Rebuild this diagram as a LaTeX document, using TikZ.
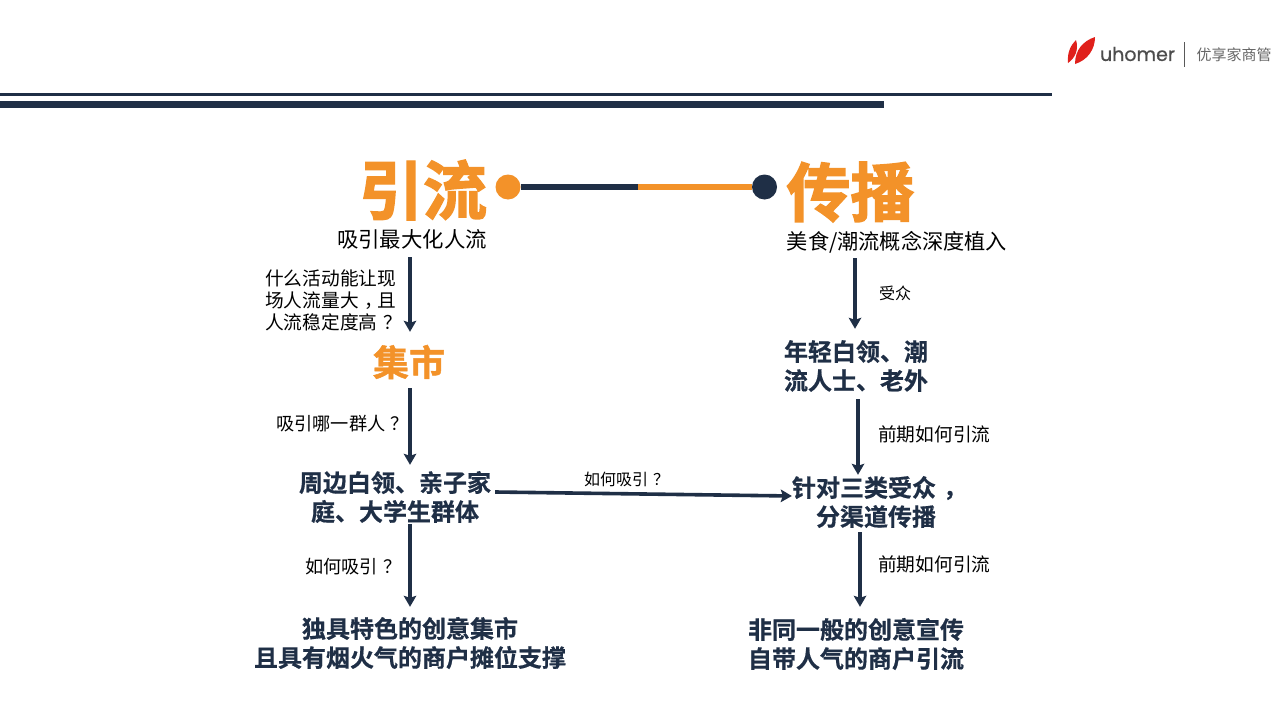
\documentclass[tikz,border=0pt]{standalone}
\usepackage{fontspec}
\newfontfamily\cjk{Noto Sans CJK SC}
\newfontfamily\cjkb[FakeBold=0.6]{Noto Sans CJK SC Bold}
\newfontfamily\cjkm[FakeBold=1.2]{Noto Sans CJK SC Bold}
\newfontfamily\cjkt[FakeBold=2.2]{Noto Sans CJK SC Bold}
\newfontfamily\logof[FakeBold=0.6]{Poppins}
\usetikzlibrary{arrows.meta}
\definecolor{navy}{HTML}{1F2F46}
\definecolor{orng}{HTML}{F39229}
\definecolor{leaf}{HTML}{E0201B}
\newcommand{\qm}{\kern.3em？\kern-.3em\relax}
\newcommand{\cm}{\kern.3em，\kern-.3em\relax}
\tikzset{
  x=1pt,y=-1pt,
  fs/.style={font=\fontsize{#1}{#1}\selectfont\cjk,text=black,inner sep=0pt,align=left},
  hd/.style={font=\fontsize{24}{29}\selectfont\cjkb,text=navy,inner sep=0pt,align=center,minimum height=54pt},
  ttl/.style={font=\fontsize{64}{64}\selectfont\cjkt,text=orng,inner sep=0pt},
  flow/.style={draw=navy,line width=3.6pt,-{Stealth[length=11pt,width=12.5pt,inset=2pt]}},
  dot/.style={circle,inner sep=0pt,minimum size=25pt}
}
\begin{document}
\begin{tikzpicture}
\useasboundingbox (0,0) rectangle (1280,720);
\fill[white] (0,0) rectangle (1280,720);
% header rules
\fill[navy] (0,92.5) rectangle (1052,95.5);
\fill[navy] (0,101) rectangle (884,107.5);
% logo
\fill[leaf] (1068,63) .. controls (1067,52) and (1071,45) .. (1076,40) .. controls (1079,50) and (1075,58) .. (1068,63);
\fill[leaf] (1075,64) .. controls (1075,50) and (1083,41) .. (1095,37) .. controls (1095,49) and (1088,60) .. (1075,64);
\node[font=\fontsize{19}{19}\selectfont\logof,text=black!70,inner sep=0pt] (brand) at (1137.5,54) {uhomer};
\draw[black!65,line width=.8pt] (1184,42) -- (1184,67);
\node[font=\fontsize{15}{15}\selectfont\cjk,text=black!60,inner sep=0pt] (brandcn) at (1234,55) {优享家商管};
% top row
\node[ttl] (yl) at (423,190) {引流};
\node[ttl] (cb) at (850.5,192) {传播};
\node[dot,fill=orng] (d1) at (508,187) {};
\node[dot,fill=navy] (d2) at (764.5,187) {};
\coordinate (mid) at (638,187);
\draw[navy,line width=6pt] (d1.east) -- (mid);
\draw[orng,line width=6pt] (mid) -- (d2.west);
\node[fs=21.4,minimum height=36pt] (a0) at (412,239) {吸引最大化人流};
\node[fs=21.2,minimum height=32pt] (b0) at (897,242) {美食/潮流概念深度植入};
% left column
\node[font=\fontsize{36}{36}\selectfont\cjkm,text=orng,inner sep=0pt,minimum height=64pt] (a1) at (409,362) {集市};
\node[hd] (a2) at (395,497) {周边白领、亲子家\\庭、大学生群体};
\node[hd,minimum height=64pt] (a3) at (410,643) {独具特色的创意集市\\且具有烟火气的商户摊位支撑};
% right column
\node[hd,align=left,minimum height=66pt] (b1) at (856,366) {年轻白领、潮\\流人士、老外};
\node[hd,minimum height=60pt] (b2) at (876,502) {针对三类受众\cm\\分渠道传播};
\node[hd,minimum height=64pt] (b3) at (856,644) {非同一般的创意宣传\\自带人气的商户引流};
% connectors
\draw[flow] ([xshift=-2pt]a0.south) -- ([xshift=1pt,yshift=-2pt]a1.north);
\draw[flow] ([xshift=1pt,yshift=6pt]a1.south) -- ([xshift=15pt,yshift=5pt]a2.north);
\draw[flow] ([xshift=15pt]a2.south) -- ([yshift=4pt]a3.north);
\draw[flow] ([xshift=-42pt]b0.south) -- ([xshift=-1pt,yshift=4pt]b1.north);
\draw[flow] ([xshift=2pt]b1.south) -- ([xshift=-18pt,yshift=-3pt]b2.north);
\draw[flow] ([xshift=-16pt]b2.south) -- ([xshift=4pt,yshift=5pt]b3.north);
\draw[flow] ([xshift=4pt,yshift=5pt]a2.east) -- ([yshift=6pt]b2.west);
% labels
\node[fs=18,font=\fontsize{18.7}{22}\selectfont\cjk,anchor=west] (q1) at (265,300) {什么活动能让现\\场人流量大\cm 且\\人流稳定度高\qm};
\node[fs=18.2,anchor=west] (q2) at (276,424) {吸引哪一群人\qm};
\node[fs=18.2,anchor=west] (q3) at (305,567) {如何吸引\qm};
\node[fs=16,anchor=west] (q4) at (584,479) {如何吸引\qm};
\node[fs=16,anchor=west] (r1) at (879,293) {受众};
\node[fs=18.7,anchor=west] (r2) at (878,434) {前期如何引流};
\node[fs=18.7,anchor=west] (r3) at (878,564) {前期如何引流};
\end{tikzpicture}
\end{document}
